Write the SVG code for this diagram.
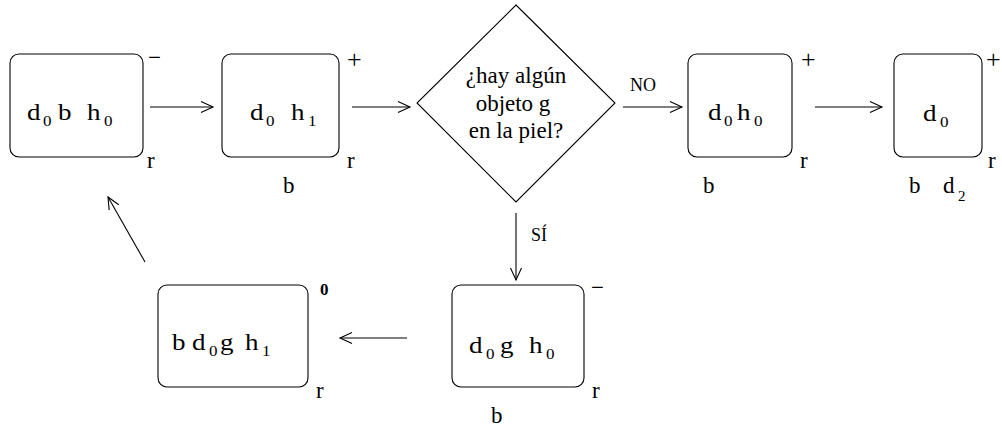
<svg xmlns="http://www.w3.org/2000/svg" width="1002" height="427" viewBox="0 0 1002 427">
<style>
text{font-family:"Liberation Serif","Times New Roman",serif;fill:#000}
.m{font-size:24px}
.s{font-size:15px}
.l{font-size:23px}
.p{font-size:26px}
.q{font-size:23px;text-anchor:middle}
.box{fill:#fff;stroke:#000;stroke-width:1.1}
.c{stroke:#000;stroke-width:1.1;fill:none}
</style>
<defs>
<marker id="ah" markerUnits="userSpaceOnUse" markerWidth="16" markerHeight="14" refX="13" refY="6" orient="auto">
<path d="M1,0.5 L13,6 L1,11.5" fill="none" stroke="#000" stroke-width="1.1"/>
</marker>
</defs>
<rect width="1002" height="427" fill="#fff"/>
<g id="connectors">
<line class="c" x1="150" y1="107" x2="213" y2="107" marker-end="url(#ah)"/>
<line class="c" x1="352" y1="107" x2="410" y2="107" marker-end="url(#ah)"/>
<line class="c" x1="623" y1="107" x2="682" y2="107" marker-end="url(#ah)"/>
<text x="630" y="91" font-size="18">NO</text>
<line class="c" x1="815" y1="107" x2="882" y2="107" marker-end="url(#ah)"/>
<line class="c" x1="516" y1="213" x2="516" y2="280" marker-end="url(#ah)"/>
<text x="531" y="241" font-size="18">SÍ</text>
<line class="c" x1="407" y1="338" x2="340" y2="338" marker-end="url(#ah)"/>
<line class="c" x1="145" y1="262" x2="108" y2="197" marker-end="url(#ah)"/>
</g>
<g id="node1">
<rect class="box" x="10" y="54" width="133" height="103" rx="9"/>
<text class="m" x="27" y="120" textLength="13.5" lengthAdjust="spacingAndGlyphs">d</text><text class="s" x="43" y="126" textLength="8.5" lengthAdjust="spacingAndGlyphs">0</text>
<text class="m" x="58" y="120" textLength="13.5" lengthAdjust="spacingAndGlyphs">b</text>
<text class="m" x="87" y="120" textLength="13.5" lengthAdjust="spacingAndGlyphs">h</text><text class="s" x="104" y="126" textLength="8.5" lengthAdjust="spacingAndGlyphs">0</text>
<text class="l" x="148" y="65">−</text>
<text class="l" x="147" y="168">r</text>
</g>
<g id="node2">
<rect class="box" x="222" y="54" width="117" height="103" rx="9"/>
<text class="m" x="250" y="120" textLength="13.5" lengthAdjust="spacingAndGlyphs">d</text><text class="s" x="266" y="126" textLength="8.5" lengthAdjust="spacingAndGlyphs">0</text>
<text class="m" x="291" y="120" textLength="13.5" lengthAdjust="spacingAndGlyphs">h</text><text class="s" x="308" y="126" textLength="8.5" lengthAdjust="spacingAndGlyphs">1</text>
<text class="p" x="347" y="68">+</text>
<text class="l" x="347" y="168">r</text>
<text class="l" x="283" y="193">b</text>
</g>
<g id="decision">
<polygon class="box" points="516,5 615,103 516,202 417,103"/>
<text class="q" x="516" y="83">¿hay algún</text>
<text class="q" x="513" y="111">objeto g</text>
<text class="q" x="516" y="138">en la piel?</text>
</g>
<g id="node3">
<rect class="box" x="688" y="54" width="104" height="103" rx="9"/>
<text class="m" x="708" y="120" textLength="13.5" lengthAdjust="spacingAndGlyphs">d</text><text class="s" x="724" y="126" textLength="8.5" lengthAdjust="spacingAndGlyphs">0</text>
<text class="m" x="737" y="120" textLength="13.5" lengthAdjust="spacingAndGlyphs">h</text><text class="s" x="754" y="126" textLength="8.5" lengthAdjust="spacingAndGlyphs">0</text>
<text class="p" x="801" y="68">+</text>
<text class="l" x="800" y="168">r</text>
<text class="l" x="703" y="193">b</text>
</g>
<g id="node4">
<rect class="box" x="894" y="54" width="88" height="103" rx="9"/>
<text class="m" x="923" y="121" textLength="13.5" lengthAdjust="spacingAndGlyphs">d</text><text class="s" x="940" y="127" textLength="8.5" lengthAdjust="spacingAndGlyphs">0</text>
<text class="p" x="986" y="68">+</text>
<text class="l" x="988" y="168">r</text>
<text class="l" x="909" y="193">b</text>
<text class="l" x="943" y="193">d</text><text class="s" x="958" y="201">2</text>
</g>
<g id="node5">
<rect class="box" x="158" y="285" width="150" height="102" rx="9"/>
<text class="m" x="172" y="350" textLength="13.5" lengthAdjust="spacingAndGlyphs">b</text>
<text class="m" x="192" y="350" textLength="13.5" lengthAdjust="spacingAndGlyphs">d</text><text class="s" x="209" y="356" textLength="8.5" lengthAdjust="spacingAndGlyphs">0</text>
<text class="m" x="220" y="350" textLength="13.5" lengthAdjust="spacingAndGlyphs">g</text>
<text class="m" x="245" y="350" textLength="13.5" lengthAdjust="spacingAndGlyphs">h</text><text class="s" x="262" y="356" textLength="8.5" lengthAdjust="spacingAndGlyphs">1</text>
<text x="320" y="295" font-size="17" font-weight="bold">0</text>
<text class="l" x="316" y="398">r</text>
</g>
<g id="node6">
<rect class="box" x="452" y="285" width="132" height="102" rx="9"/>
<text class="m" x="469" y="353" textLength="13.5" lengthAdjust="spacingAndGlyphs">d</text><text class="s" x="486" y="359" textLength="8.5" lengthAdjust="spacingAndGlyphs">0</text>
<text class="m" x="500" y="353" textLength="13.5" lengthAdjust="spacingAndGlyphs">g</text>
<text class="m" x="529" y="353" textLength="13.5" lengthAdjust="spacingAndGlyphs">h</text><text class="s" x="546" y="359" textLength="8.5" lengthAdjust="spacingAndGlyphs">0</text>
<text class="l" x="591" y="295">−</text>
<text class="l" x="592" y="398">r</text>
<text class="l" x="491" y="423">b</text>
</g>
</svg>
